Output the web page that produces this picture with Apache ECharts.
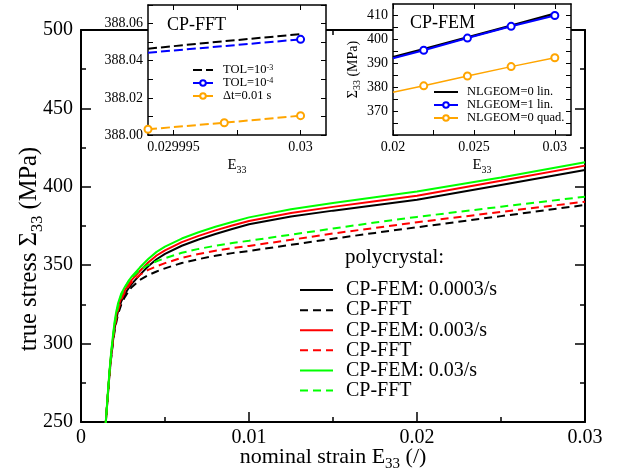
<!DOCTYPE html>
<html><head><meta charset="utf-8">
<script src="https://cdn.jsdelivr.net/npm/echarts@6/dist/echarts.min.js"></script>
<style>html,body{margin:0;padding:0;background:#fff}#c{width:619px;height:476px}</style>
</head><body><div id="c"></div><script>
// ---- main plot data (nominal strain E33, true stress in MPa) ----
const strain  = [0.0014,0.0015,0.0016,0.0017,0.0018,0.0019,0.002,0.0021,0.0022,0.0024,0.0026,0.0028,0.003,0.0035,0.004,0.0045,0.005,0.006,0.007,0.008,0.009,0.01,0.0125,0.015,0.0175,0.02,0.025,0.03];
const femSlow = [238,253,267,281,292,301.5,309.5,315.5,320.5,327,331.3,334.8,337.8,343.8,349.3,353.8,357.2,362.4,366.4,369.9,373.1,376.1,381,384.8,388.3,391.8,401.2,410.7];
const fftSlow = [238,253,267,280.5,291.5,300.5,308,313.5,318.5,325,329.5,332.8,335.8,340.6,343.7,346,348,351.4,353.9,356,357.7,359.1,363,366.9,370.6,374.2,381.3,388.4];
const femMid  = [238,253.5,268,282,293.5,303,311.5,318,323,329.5,333.7,337.2,340.3,346.3,351.7,356.2,359.5,364.7,368.7,372.2,375.3,378.2,383.3,387.2,390.8,394.3,403.8,413.5];
const fftMid  = [238,253,267.5,281,292.5,302,310,316,321,328,332.5,336,339,343.8,347,349.3,351.3,354.7,357.2,359.2,360.9,362.3,366.2,370.2,373.8,377.4,384,390.5];
const femFast = [238,254,269,283,295,305,314,320.5,325.5,332,336,339.5,342.5,348.5,354,358.5,361.8,367,371,374.5,377.6,380.5,385.7,389.7,393.4,397,406,415.6];
const fftFast = [238,253.5,268,282.5,294,304,312.5,318.5,323.5,331,335.5,339,342,347,350.2,352.5,354.5,357.9,360.4,362.4,364.1,365.6,369.5,373.4,377.2,380.8,387.3,393.7];
const mainNames = ['CP-FEM: 0.0003/s','CP-FFT: 0.0003/s','CP-FEM: 0.003/s','CP-FFT: 0.003/s','CP-FEM: 0.03/s','CP-FFT: 0.03/s'];
const xTickLabels = ['0','0.01','0.02','0.03'];
const yTickLabels = ['250','300','350','400','450','500'];

// ---- inset 1: CP-FFT ----
const fftX = [0.029994,0.029997,0.03];
const tol3 = [388.0465,388.0505,388.0543];
const tol4X = [0.029994,0.03];
const tol4 = [388.0443,388.0515];
const dtX = [0.029994,0.029997,0.03];
const dt01 = [388.0031,388.0066,388.0104];
const in1XTicks = [0.029995,0.0299975,0.03];
const in1XLabels = [0.029995,0.03];
const in1XLabelText = ['0.029995','0.03'];
const in1YTicks = [388.00,388.01,388.02,388.03,388.04,388.05,388.06,388.07];
const in1YLabels = [388.00,388.02,388.04,388.06];

// ---- inset 2: CP-FEM ----
const femX = [0.02,0.0219,0.0246,0.0273,0.03];
const nl0lin = [392.4,395.8,400.7,405.6,410.6];
const nl1lin = [392.0,395.3,400.4,405.3,409.8];
const nl0quad = [377.8,380.5,384.6,388.5,392.2];
const in2XTicks = [0.02,0.0225,0.025,0.0275,0.03];
const in2XLabels = [0.02,0.025,0.03];
const in2XLabelText = ['0.02','0.025','0.03'];
const in2YTicks = [360,365,370,375,380,385,390,395,400,405,410];
const in2YLabels = [370,380,390,400,410];

const F = 'Liberation Serif';
const pairs = (xs, ys) => xs.map((x, i) => [x, ys[i]]);
const subRich = (fs, sfs) => ({
  n: {fontFamily: F, fontSize: fs, lineHeight: Math.round(fs * 1.3), color: '#000', verticalAlign: 'middle'},
  s: {fontFamily: F, fontSize: sfs, lineHeight: sfs, color: '#000', verticalAlign: 'bottom'}
});

function mainAxis(kind, pos, show) {
  const isX = kind === 'x';
  return {
    type: 'value', gridIndex: 0, position: pos,
    min: isX ? 0 : 250, max: isX ? 0.03 : 500, interval: isX ? 0.01 : 50,
    axisLine: {show: true, onZero: false, lineStyle: {color: '#000', width: 2}},
    axisTick: {show: true, inside: true, length: 10, lineStyle: {color: '#000', width: 1.5}},
    minorTick: {show: true, splitNumber: 2, length: 5, lineStyle: {color: '#000', width: 1.5}},
    splitLine: {show: false}, minorSplitLine: {show: false},
    axisLabel: {show: show, fontFamily: F, fontSize: 20, color: '#000', margin: isX ? 6 : 8,
      formatter: (v, i) => (isX ? xTickLabels : yTickLabels)[i]},
    nameMoveOverlap: false,
    z: 1
  };
}
function insetAxis(grid, pos, min, max, ticks, labels, fmt, show, extra) {
  return Object.assign({
    type: 'value', gridIndex: grid, position: pos, min: min, max: max,
    axisLine: {show: true, onZero: false, lineStyle: {color: '#000', width: 1.5}},
    axisTick: {show: true, inside: true, length: 5, customValues: ticks, lineStyle: {color: '#000', width: 1}},
    splitLine: {show: false},
    axisLabel: {show: show, customValues: labels, formatter: fmt, fontFamily: F, fontSize: 14, color: '#000', margin: 5},
    nameMoveOverlap: false,
    z: 11
  }, extra || {});
}

const mainColors = ['#000000','#000000','#ff0000','#ff0000','#00ff00','#00ff00'];
const mainData = [femSlow, fftSlow, femMid, fftMid, femFast, fftFast];
const series = mainNames.map((nm, i) => ({
  name: nm, type: 'line', xAxisIndex: 0, yAxisIndex: 0,
  data: pairs(strain, mainData[i]), symbol: 'none', smooth: false,
  lineStyle: {color: mainColors[i], width: 2, type: i % 2 ? [8, 5] : 'solid'},
  itemStyle: {color: mainColors[i]}, z: 2
}));
const circ = {symbol: 'emptyCircle', symbolSize: 7};
series.push(
  {name: 'TOL=10^-3', type: 'line', xAxisIndex: 2, yAxisIndex: 2, data: pairs(fftX, tol3), symbol: 'none',
   lineStyle: {color: '#000', width: 2, type: [9, 4]}, itemStyle: {color: '#000'}, z: 12},
  Object.assign({name: 'TOL=10^-4', type: 'line', xAxisIndex: 2, yAxisIndex: 2,
   data: pairs(tol4X, tol4).map((p, i) => i === 0 ? {value: p, symbol: 'none'} : p),
   lineStyle: {color: '#0000ff', width: 2, type: [9, 4]}, itemStyle: {color: '#0000ff', borderWidth: 1.5}, z: 12}, circ),
  Object.assign({name: 'Δt=0.01 s', type: 'line', xAxisIndex: 2, yAxisIndex: 2, data: pairs(dtX, dt01),
   lineStyle: {color: '#ffa500', width: 2, type: [9, 4]}, itemStyle: {color: '#ffa500', borderWidth: 1.5}, z: 12}, circ),
  {name: 'NLGEOM=0 lin.', type: 'line', xAxisIndex: 4, yAxisIndex: 4, data: pairs(femX, nl0lin), symbol: 'none',
   lineStyle: {color: '#000', width: 2.5}, itemStyle: {color: '#000'}, z: 12},
  Object.assign({name: 'NLGEOM=1 lin.', type: 'line', xAxisIndex: 4, yAxisIndex: 4,
   data: pairs(femX, nl1lin).map((p, i) => i === 0 ? {value: p, symbol: 'none'} : p),
   lineStyle: {color: '#0000ff', width: 2}, itemStyle: {color: '#0000ff', borderWidth: 1.5}, z: 13}, circ),
  Object.assign({name: 'NLGEOM=0 quad.', type: 'line', xAxisIndex: 4, yAxisIndex: 4,
   data: pairs(femX, nl0quad).map((p, i) => i === 0 ? {value: p, symbol: 'none'} : p),
   lineStyle: {color: '#ffa500', width: 1.5}, itemStyle: {color: '#ffa500', borderWidth: 1.5}, z: 12}, circ)
);

const fmt1x = (v) => { const k = in1XLabels.findIndex(t => Math.abs(t - v) < 1e-9); return k >= 0 ? in1XLabelText[k] : ''; };
const fmt1y = (v) => Number(v).toFixed(2);
const fmt2x = (v) => { const k = in2XLabels.findIndex(t => Math.abs(t - v) < 1e-9); return k >= 0 ? in2XLabelText[k] : ''; };
const fmt2y = (v) => String(Math.round(v));
const noSym = {opacity: 0};
const titleStyle = (fs) => ({fontFamily: F, fontSize: fs, fontWeight: 'normal', color: '#000'});

const option = {
  animation: false,
  backgroundColor: '#fff',
  grid: [
    {left: 81, top: 30, width: 504, height: 392, show: false, outerBoundsMode: 'none', containLabel: false},
    {left: 148, top: 5, width: 178, height: 130, show: true, backgroundColor: '#fff', borderWidth: 0, z: 10, outerBoundsMode: 'none', containLabel: false},
    {left: 393, top: 4, width: 178, height: 131, show: true, backgroundColor: '#fff', borderWidth: 0, z: 10, outerBoundsMode: 'none', containLabel: false}
  ],
  xAxis: [
    Object.assign(mainAxis('x', 'bottom', true), {
      name: '{n|nominal strain E}{s|33}{n| (/)}', nameLocation: 'middle', nameGap: 21,
      nameTextStyle: {rich: subRich(22, 15)}}),
    mainAxis('x', 'top', false),
    insetAxis(1, 'bottom', 0.029994, 0.030001, in1XTicks, in1XLabels, fmt1x, true,
      {name: '{n|E}{s|33}', nameLocation: 'middle', nameGap: 20, nameTextStyle: {rich: subRich(15, 10)}}),
    insetAxis(1, 'top', 0.029994, 0.030001, in1XTicks, in1XLabels, fmt1x, false),
    insetAxis(2, 'bottom', 0.02, 0.031, in2XTicks, in2XLabels, fmt2x, true,
      {name: '{n|E}{s|33}', nameLocation: 'middle', nameGap: 20, nameTextStyle: {rich: subRich(15, 10)}}),
    insetAxis(2, 'top', 0.02, 0.031, in2XTicks, in2XLabels, fmt2x, false)
  ],
  yAxis: [
    Object.assign(mainAxis('y', 'left', true), {
      name: '{n|true stress Σ}{s|33}{n| (MPa)}', nameLocation: 'middle', nameGap: 35,
      nameTextStyle: {rich: subRich(24.5, 16.5), padding: [0, 46, 0, 0]}}),
    mainAxis('y', 'right', false),
    insetAxis(1, 'left', 388.00, 388.07, in1YTicks, in1YLabels, fmt1y, true),
    insetAxis(1, 'right', 388.00, 388.07, in1YTicks, in1YLabels, fmt1y, false),
    insetAxis(2, 'left', 360, 414.6, in2YTicks, in2YLabels, fmt2y, true,
      {name: '{n|Σ}{s|33}{n| (MPa)}', nameLocation: 'middle', nameGap: 31, nameTextStyle: {rich: subRich(14, 10)}}),
    insetAxis(2, 'right', 360, 414.6, in2YTicks, in2YLabels, fmt2y, false)
  ],
  title: [
    {text: 'CP-FFT', left: 167, top: 16, padding: 0, z: 20, textStyle: titleStyle(18)},
    {text: 'CP-FEM', left: 410, top: 14, padding: 0, z: 20, textStyle: titleStyle(18)},
    {text: 'polycrystal:', left: 345, top: 247, padding: 0, z: 20, textStyle: titleStyle(21)}
  ],
  legend: [
    {data: mainNames.map(n => ({name: n, itemStyle: noSym})), orient: 'vertical', left: 299, top: 280, padding: 0,
     itemWidth: 33, itemHeight: 14, itemGap: 0, selectedMode: false, z: 20,
     formatter: (n) => n.startsWith('CP-FFT') ? 'CP-FFT' : n,
     textStyle: {fontFamily: F, fontSize: 20, lineHeight: 20.1, color: '#000', padding: [0, 0, 0, 8]}},
    {data: [{name: 'TOL=10^-3', itemStyle: noSym}, 'TOL=10^-4', 'Δt=0.01 s'], orient: 'vertical', left: 192, top: 63.5,
     padding: 0, itemWidth: 20, itemHeight: 7, itemGap: 0, selectedMode: false, z: 20,
     formatter: (n) => n.startsWith('TOL') ? 'TOL={b|10}{p|' + n.split('^')[1] + '}' : n,
     textStyle: {fontFamily: F, fontSize: 12.5, lineHeight: 13, color: '#000', padding: [0, 0, 0, 5],
       rich: {b: {fontFamily: F, fontSize: 12.5, lineHeight: 13, color: '#000'},
              p: {fontFamily: F, fontSize: 8, lineHeight: 8, color: '#000', verticalAlign: 'top'}}}},
    {data: [{name: 'NLGEOM=0 lin.', itemStyle: noSym}, 'NLGEOM=1 lin.', 'NLGEOM=0 quad.'], orient: 'vertical', left: 433, top: 85.5,
     padding: 0, itemWidth: 24, itemHeight: 7, itemGap: 0, selectedMode: false, z: 20,
     textStyle: {fontFamily: F, fontSize: 12.5, lineHeight: 12.3, color: '#000', padding: [0, 0, 0, 4]}}
  ],
  series: series
};
const chart = echarts.init(document.getElementById('c'), null, {renderer: 'canvas'});
chart.setOption(option);
</script></body></html>
